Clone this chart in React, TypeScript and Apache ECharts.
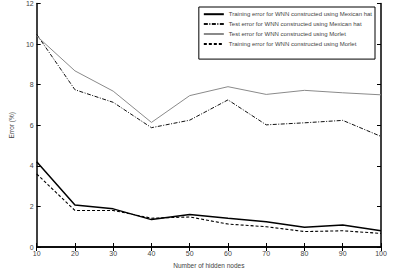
import React, { useEffect, useRef } from "react";
import * as echarts from "echarts";

const hiddenNodes = [10, 20, 30, 40, 50, 60, 70, 80, 90, 100];
const trainMexicanHat = [4.2, 2.07, 1.88, 1.35, 1.6, 1.42, 1.25, 0.97, 1.08, 0.8];
const testMexicanHat = [10.48, 7.75, 7.13, 5.88, 6.25, 7.25, 6.02, 6.12, 6.24, 5.45];
const testMorlet = [10.4, 8.68, 7.68, 6.14, 7.46, 7.9, 7.52, 7.72, 7.6, 7.5];
const trainMorlet = [3.6, 1.8, 1.8, 1.42, 1.48, 1.13, 1.0, 0.76, 0.8, 0.67];

const seriesNames = [
  "Training error for WNN constructed using Mexican hat",
  "Test error for WNN constructed using Mexican hat",
  "Test error for WNN constructed using Morlet",
  "Training error for WNN constructed using Morlet",
];

const FONT = "'Liberation Sans', Arial, sans-serif";

export default function App() {
  const ref = useRef<HTMLDivElement>(null);

  useEffect(() => {
    if (!ref.current) return;
    const chart = echarts.init(ref.current, undefined, { renderer: "svg" });
    const pair = (ys: number[]) => hiddenNodes.map((x, i) => [x, ys[i]]);
    const axisLine = { show: true, lineStyle: { color: "#000", width: 1.5 } };
    const tickStyle = { show: true, inside: true, length: 4, lineStyle: { color: "#000", width: 1 } };
    const labelStyle = { color: "#444", fontSize: 7, fontFamily: FONT };

    chart.setOption({
      animation: false,
      backgroundColor: "#fff",
      textStyle: { fontFamily: FONT },
      grid: { left: 32, right: 14, top: 3, bottom: 24, containLabel: false },
      legend: {
        orient: "vertical",
        right: 20,
        top: 7,
        itemWidth: 20,
        itemHeight: 8,
        itemGap: 3.5,
        padding: [4, 3, 12, 4],
        borderColor: "#000",
        borderWidth: 1,
        backgroundColor: "#fff",
        itemStyle: { opacity: 0 },
        textStyle: { color: "#444", fontSize: 6, fontFamily: FONT },
        data: seriesNames,
      },
      xAxis: [
        {
          type: "value",
          min: 10,
          max: 100,
          interval: 10,
          name: "Number of hidden nodes",
          nameLocation: "middle",
          nameGap: 15,
          nameTextStyle: { color: "#444", fontSize: 6.5, fontFamily: FONT },
          axisLine,
          axisTick: tickStyle,
          axisLabel: { ...labelStyle, margin: 3 },
          splitLine: { show: false },
        },
        {
          type: "value",
          position: "top",
          min: 10,
          max: 100,
          interval: 10,
          axisLine,
          axisTick: tickStyle,
          axisLabel: { show: false },
          splitLine: { show: false },
        },
      ],
      yAxis: [
        {
          type: "value",
          min: 0,
          max: 12,
          interval: 2,
          name: "Error (%)",
          nameLocation: "middle",
          nameGap: 16,
          nameTextStyle: { color: "#444", fontSize: 6.5, fontFamily: FONT },
          axisLine,
          axisTick: tickStyle,
          axisLabel: { ...labelStyle, margin: 3 },
          splitLine: { show: false },
        },
        {
          type: "value",
          position: "right",
          min: 0,
          max: 12,
          interval: 2,
          axisLine,
          axisTick: tickStyle,
          axisLabel: { show: false },
          splitLine: { show: false },
        },
      ],
      series: [
        {
          name: seriesNames[0],
          type: "line",
          data: pair(trainMexicanHat),
          symbol: "none",
          lineStyle: { color: "#000", width: 1.5, type: "solid" },
          itemStyle: { color: "#000" },
        },
        {
          name: seriesNames[1],
          type: "line",
          data: pair(testMexicanHat),
          symbol: "none",
          lineStyle: { color: "#111", width: 1, type: [4, 1.5, 1, 1.5] },
          itemStyle: { color: "#111" },
        },
        {
          name: seriesNames[2],
          type: "line",
          data: pair(testMorlet),
          symbol: "none",
          lineStyle: { color: "#8a8a8a", width: 1, type: "solid" },
          itemStyle: { color: "#8a8a8a" },
        },
        {
          name: seriesNames[3],
          type: "line",
          data: pair(trainMorlet),
          symbol: "none",
          lineStyle: { color: "#000", width: 1.1, type: [3, 2] },
          itemStyle: { color: "#000" },
        },
      ],
    });
    return () => chart.dispose();
  }, []);

  return (
    <div
      ref={ref}
      style={{ position: "absolute", left: 0, top: 0, width: 395, height: 274, background: "#fff" }}
    />
  );
}
